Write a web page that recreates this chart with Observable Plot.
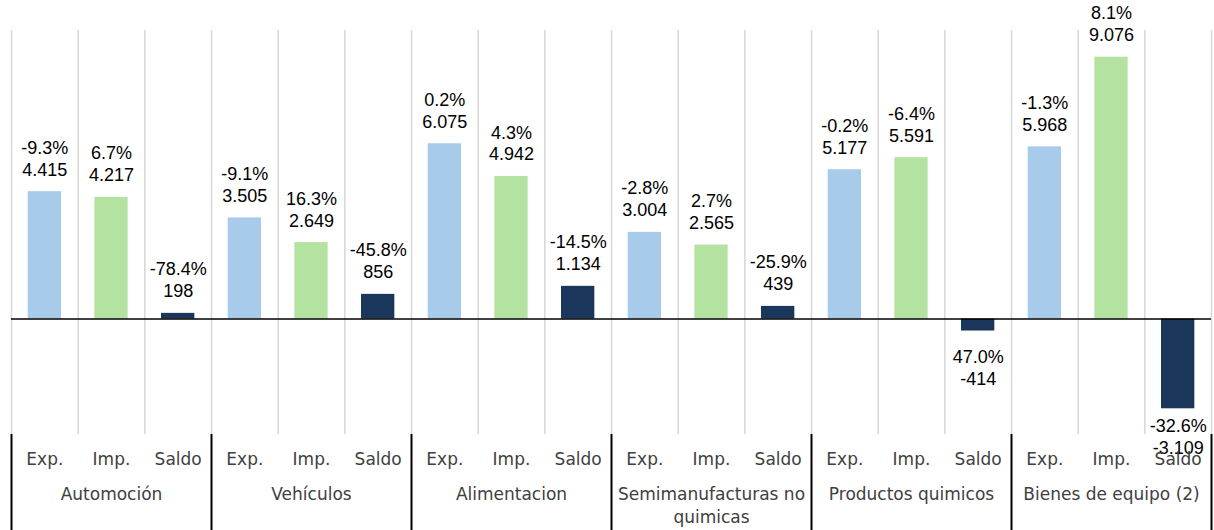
<!DOCTYPE html>
<html><head><meta charset="utf-8">
<script src="https://cdn.jsdelivr.net/npm/d3@7"></script>
<script src="https://cdn.jsdelivr.net/npm/@observablehq/plot@0.6"></script>
<style>body{margin:0;background:#fff}</style>
</head><body><div id="chart"></div>
<script>
const groups = ["Automoción", "Vehículos", "Alimentacion", "Semimanufacturas no\nquimicas", "Productos quimicos", "Bienes de equipo (2)"];
const types = ["Exp.", "Imp.", "Saldo"];
const expValues = [4415, 3505, 6075, 3004, 5177, 5968];
const impValues = [4217, 2649, 4942, 2565, 5591, 9076];
const saldoValues = [198, 856, 1134, 439, -414, -3109];
const expPct = [-9.3, -9.1, 0.2, -2.8, -0.2, -1.3];
const impPct = [6.7, 16.3, 4.3, 2.7, -6.4, 8.1];
const saldoPct = [-78.4, -45.8, -14.5, -25.9, 47.0, -32.6];
const colors = ["#A8CAEB", "#B4E3A1", "#1B365B"];

const series = [expValues, impValues, saldoValues];
const pcts = [expPct, impPct, saldoPct];
const data = [];
groups.forEach((g, gi) => types.forEach((t, ti) => data.push({
  group: g, type: t, slot: gi * 3 + ti, value: series[ti][gi], pct: pcts[ti][gi]
})));

const loc = d3.formatLocale({decimal: ",", thousands: ".", grouping: [3], currency: ["", "€"], minus: "-"});
const fmtVal = loc.format(",d");
const fmtPct = v => d3.format(".1f")(v).replace("−", "-") + "%";
const label = d => fmtPct(d.pct) + "\n" + fmtVal(d.value);

const yMin = -4000, yMax = 10000;
const labelFloor = -2830;
const nSlots = data.length;

const labelFont = "Liberation Sans, Arial, sans-serif";
const axisFont = "DejaVu Sans, sans-serif";

const chart = Plot.plot({
  width: 1214,
  height: 530,
  marginLeft: 11,
  marginRight: 3,
  marginTop: 30,
  marginBottom: 96,
  x: {type: "linear", domain: [0, nSlots], axis: null, label: null},
  y: {domain: [yMin, yMax], axis: null},
  color: {domain: types, range: colors},
  marks: [
    Plot.gridX({ticks: d3.range(nSlots + 1), stroke: "#D9D9D9", strokeOpacity: 1, strokeWidth: 1.6}),
    Plot.rectY(data, {x: "slot", y: "value", interval: 1, insetLeft: 16.67, insetRight: 16.67, fill: "type"}),
    Plot.ruleY([0], {stroke: "#000", strokeWidth: 1.6}),
    Plot.text(data.filter(d => d.value >= 0), {
      x: d => d.slot + 0.5, y: "value", text: label, lineAnchor: "bottom", dy: -16,
      lineHeight: 1.22, fontSize: 18, fontFamily: labelFont, fill: "#000"
    }),
    Plot.text(data.filter(d => d.value < 0), {
      x: d => d.slot + 0.5, y: d => Math.max(d.value, labelFloor), text: label, lineAnchor: "top", dy: 16,
      lineHeight: 1.22, fontSize: 18, fontFamily: labelFont, fill: "#000"
    }),
    Plot.axisX({ticks: d3.range(0, nSlots + 1, 3), tickSize: 96, stroke: "#000", strokeWidth: 2, strokeOpacity: 1, tickFormat: () => "", label: null}),
    Plot.axisX({
      ticks: d3.range(nSlots).map(i => i + 0.5), tickSize: 0, tickPadding: 18, label: null,
      tickFormat: v => types[Math.floor(v) % 3], fontSize: 17, fontFamily: axisFont, fill: "#404040"
    }),
    Plot.axisX({
      ticks: groups.map((g, i) => i * 3 + 1.5), tickSize: 0, tickPadding: 49, lineHeight: 1.35, label: null,
      tickFormat: v => groups[Math.floor(v / 3)], fontSize: 17, fontFamily: axisFont, fill: "#404040"
    })
  ]
});
document.getElementById("chart").append(chart);
</script>
</body></html>
